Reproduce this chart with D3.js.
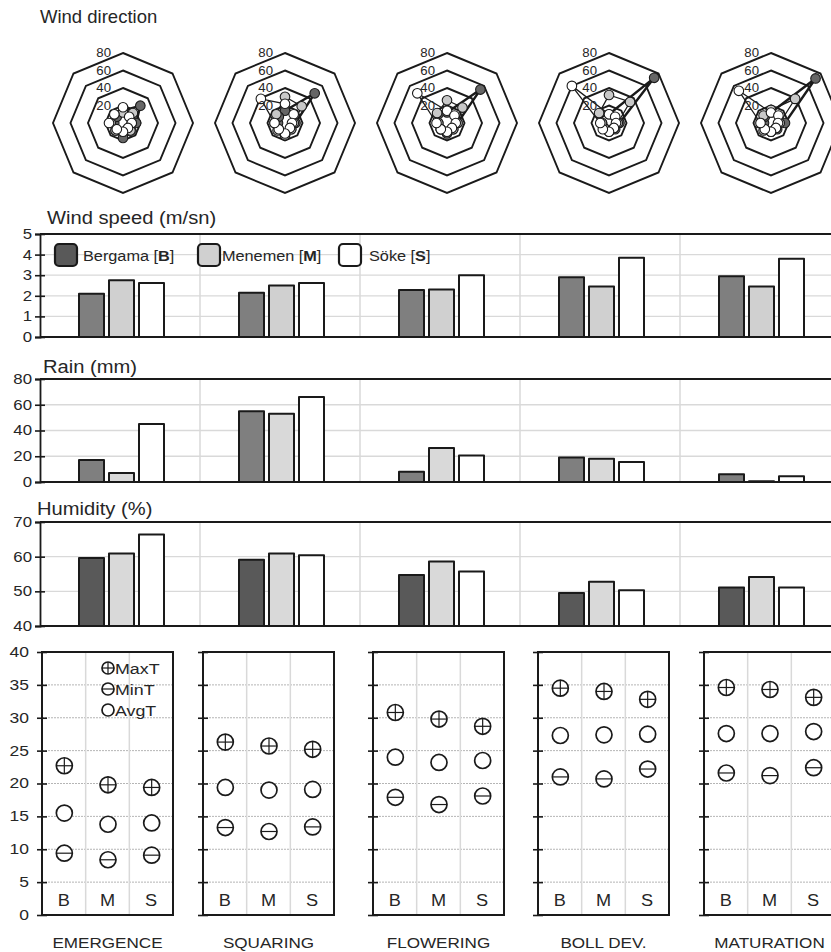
<!DOCTYPE html>
<html><head><meta charset="utf-8">
<script src="https://cdn.jsdelivr.net/npm/d3@7/dist/d3.min.js"></script>
<style>
body{margin:0;background:#fff;}
text{font-family:"Liberation Sans",Arial,sans-serif;fill:#262626;}
</style>
</head><body>
<svg id="chart" width="831" height="952"></svg>
<script>
// ---- data ----
const stages = ["EMERGENCE", "SQUARING", "FLOWERING", "BOLL DEV.", "MATURATION"];
const sites = ["Bergama", "Menemen", "Söke"];
const siteCodes = ["B", "M", "S"];
const directions = ["N", "NE", "E", "SE", "S", "SW", "W", "NW"];

// wind direction frequency (%) per stage, by site
const windDirB = [
  [14, 28, 15, 14, 17, 12, 10, 10],
  [14, 48, 12, 10, 14, 10, 8, 10],
  [12, 54, 12, 10, 12, 10, 10, 14],
  [10, 73, 12, 10, 10, 8, 8, 15],
  [12, 72, 16, 10, 10, 10, 8, 10]
];
const windDirM = [
  [12, 16, 10, 12, 10, 12, 14, 14],
  [30, 27, 10, 10, 14, 12, 12, 14],
  [26, 25, 12, 10, 10, 10, 10, 16],
  [32, 34, 10, 8, 8, 8, 8, 16],
  [15, 39, 10, 8, 10, 12, 14, 12]
];
const windDirS = [
  [18, 10, 10, 8, 10, 10, 16, 14],
  [22, 14, 8, 8, 12, 10, 12, 39],
  [14, 12, 10, 8, 10, 10, 12, 48],
  [10, 10, 8, 8, 10, 10, 10, 60],
  [12, 12, 8, 8, 10, 10, 12, 52]
];
const radarTicks = [20, 40, 60, 80];

// wind speed (m/sn)
const windSpeedB = [2.1, 2.15, 2.28, 2.9, 2.95];
const windSpeedM = [2.75, 2.5, 2.3, 2.45, 2.45];
const windSpeedS = [2.62, 2.62, 3.0, 3.85, 3.8];
const windSpeedTicks = [0, 1, 2, 3, 4, 5];

// rain (mm)
const rainB = [17, 55, 8, 19, 6];
const rainM = [7, 53, 26.5, 18, 0.5];
const rainS = [45, 66, 20.5, 15.5, 4.5];
const rainTicks = [0, 20, 40, 60, 80];

// humidity (%)
const humidityB = [59.6, 59.1, 54.7, 49.5, 51.1];
const humidityM = [60.9, 60.9, 58.6, 52.8, 54.1];
const humidityS = [66.4, 60.4, 55.7, 50.3, 51.1];
const humidityTicks = [40, 50, 60, 70];

// temperature (°C)
const maxTB = [22.7, 26.3, 30.8, 34.5, 34.6];
const maxTM = [19.8, 25.7, 29.8, 34.0, 34.3];
const maxTS = [19.4, 25.2, 28.7, 32.8, 33.1];
const avgTB = [15.5, 19.4, 24.0, 27.3, 27.6];
const avgTM = [13.8, 19.0, 23.2, 27.4, 27.6];
const avgTS = [14.0, 19.1, 23.5, 27.5, 27.9];
const minTB = [9.4, 13.3, 17.9, 21.0, 21.6];
const minTM = [8.4, 12.7, 16.8, 20.7, 21.2];
const minTS = [9.1, 13.4, 18.1, 22.2, 22.4];
const tempTicks = [0, 5, 10, 15, 20, 25, 30, 35, 40];

// ---- drawing ----
const svg = d3.select("#chart");
const INK = "#1a1a1a";
const GRID = "#d9d9d9";
const FONT = '"Liberation Sans",Arial,sans-serif';

// widen glyphs horizontally while keeping the anchor point in place
function stretch(sel, k) {
  sel.each(function () {
    const t = d3.select(this);
    const x = +t.attr("x") || 0;
    t.attr("x", x / k).attr("transform", `scale(${k},1)`);
  });
  return sel;
}

function title(txt, x, y, k) {
  stretch(svg.append("text").attr("x", x).attr("y", y).attr("font-size", 18.5).text(txt), k);
}

// ===== wind direction radars =====
title("Wind direction", 40, 23, 1.0);
const radarX = d3.scalePoint().domain(stages).range([123, 771]);
const radarCy = 123;
const rScale = d3.scaleLinear().domain([0, 80]).range([0, 70]);
const angle = d3.scalePoint().domain(directions).range([0, 2 * Math.PI * 7 / 8]);
const radarSeries = [
  {vals: windDirB, fill: "#666666", width: 2.4},
  {vals: windDirM, fill: "#c8c8c8", width: 1.3},
  {vals: windDirS, fill: "#ffffff", width: 1.3}
];
const ringLine = d3.lineRadial().angle(d => angle(d.dir)).radius(d => rScale(d.v)).curve(d3.curveLinearClosed);

stages.forEach((st, si) => {
  const g = svg.append("g").attr("transform", `translate(${radarX(st)},${radarCy})`);
  radarTicks.forEach(t => {
    g.append("path")
      .attr("d", ringLine(directions.map(d => ({dir: d, v: t}))))
      .attr("fill", "none").attr("stroke", INK).attr("stroke-width", 1.9);
  });
  radarSeries.forEach(s => {
    const pts = directions.map((d, i) => ({dir: d, v: s.vals[si][i]}));
    g.append("path").attr("d", ringLine(pts))
      .attr("fill", "none").attr("stroke", INK).attr("stroke-width", s.width);
  });
  radarSeries.forEach(s => {
    const pts = directions.map((d, i) => ({dir: d, v: s.vals[si][i]}));
    g.selectAll(null).data(pts).enter().append("circle")
      .attr("cx", d => rScale(d.v) * Math.sin(angle(d.dir)))
      .attr("cy", d => -rScale(d.v) * Math.cos(angle(d.dir)))
      .attr("r", 4.8).attr("fill", s.fill).attr("stroke", INK).attr("stroke-width", 1.1);
  });
  radarTicks.forEach(t => {
    stretch(g.append("text").attr("x", -12).attr("y", -rScale(t)).attr("dy", "0.35em")
      .attr("text-anchor", "end").attr("font-size", 12).attr("fill", "#444").text(t), 1.1);
  });
});

// ===== bar panels =====
const xStage = d3.scaleBand().domain(stages).range([40, 840]);
const xSite = d3.scaleBand().domain(sites).range([39, 124]).paddingInner(1 / 6);

function barPanel(opts) {
  const y = d3.scaleLinear().domain(opts.domain).range([opts.bottom, opts.top]);
  const g = svg.append("g");
  g.selectAll(null).data(opts.ticks).enter().append("line")
    .attr("x1", 40).attr("x2", 831).attr("y1", d => y(d)).attr("y2", d => y(d))
    .attr("stroke", GRID).attr("stroke-width", 1.3);
  g.selectAll(null).data(stages.slice(1)).enter().append("line")
    .attr("x1", d => xStage(d)).attr("x2", d => xStage(d))
    .attr("y1", opts.top).attr("y2", opts.bottom)
    .attr("stroke", GRID).attr("stroke-width", 1.5);
  g.append("line").attr("x1", 40).attr("x2", 831).attr("y1", opts.top).attr("y2", opts.top)
    .attr("stroke", INK).attr("stroke-width", 1.8);
  const series = [
    {vals: opts.b, fill: opts.bFill, site: sites[0]},
    {vals: opts.m, fill: opts.mFill, site: sites[1]},
    {vals: opts.s, fill: "#ffffff", site: sites[2]}
  ];
  series.forEach(s => {
    g.selectAll(null).data(stages).enter().append("rect")
      .attr("x", d => xStage(d) + xSite(s.site))
      .attr("width", xSite.bandwidth())
      .attr("y", (d, i) => y(s.vals[i]))
      .attr("height", (d, i) => y(opts.domain[0]) - y(s.vals[i]))
      .attr("fill", s.fill).attr("stroke", INK).attr("stroke-width", 2)
      .attr("stroke-linejoin", "round");
  });
  g.append("line").attr("x1", 40).attr("x2", 831).attr("y1", opts.bottom).attr("y2", opts.bottom)
    .attr("stroke", INK).attr("stroke-width", 1.8);
  const ax = svg.append("g").attr("transform", "translate(40,0)")
    .call(d3.axisLeft(y).tickValues(opts.ticks).tickSize(5).tickPadding(3).tickFormat(d3.format("d")));
  ax.select(".domain").attr("stroke", INK).attr("stroke-width", 1.8);
  ax.selectAll(".tick line").attr("stroke", INK).attr("stroke-width", 1.6).attr("x2", -5).attr("x1", 5);
  stretch(ax.selectAll(".tick text").attr("font-size", 14).attr("fill", "#333").attr("font-family", FONT), 1.2);
  title(opts.label, opts.labelX, opts.labelY, 1.09);
  return y;
}

barPanel({label: "Wind speed (m/sn)", labelX: 47, labelY: 224, domain: [0, 5], ticks: windSpeedTicks,
  top: 234, bottom: 337, b: windSpeedB, m: windSpeedM, s: windSpeedS, bFill: "#7f7f7f", mFill: "#d0d0d0"});
barPanel({label: "Rain (mm)", labelX: 43, labelY: 373, domain: [0, 80], ticks: rainTicks,
  top: 379, bottom: 482, b: rainB, m: rainM, s: rainS, bFill: "#7f7f7f", mFill: "#d9d9d9"});
barPanel({label: "Humidity  (%)", labelX: 37, labelY: 515, domain: [40, 70], ticks: humidityTicks,
  top: 522, bottom: 626, b: humidityB, m: humidityM, s: humidityS, bFill: "#595959", mFill: "#d9d9d9"});

// legend inside the wind speed panel
const legendItems = [
  {name: "Bergama ", code: "B", fill: "#595959", x: 55, tx: 83},
  {name: "Menemen ", code: "M", fill: "#d0d0d0", x: 198, tx: 222},
  {name: "Söke ", code: "S", fill: "#ffffff", x: 339, tx: 369}
];
legendItems.forEach(it => {
  svg.append("rect").attr("x", it.x).attr("y", 244).attr("width", 22).attr("height", 22)
    .attr("rx", 4).attr("fill", it.fill).attr("stroke", INK).attr("stroke-width", 2.2);
  const t = svg.append("text").attr("x", it.tx).attr("y", 261).attr("font-size", 15.5);
  t.append("tspan").text(it.name + "[");
  t.append("tspan").attr("font-weight", "bold").text(it.code);
  t.append("tspan").text("]");
  stretch(t, 1.05);
});

// ===== temperature boxes =====
const boxLeft = [42, 203, 373, 538, 704];
const boxW = 131, boxTop = 652, boxBottom = 915;
const yT = d3.scaleLinear().domain([0, 40]).range([boxBottom, boxTop]);
const xCol = d3.scaleBand().domain(siteCodes).range([0, boxW]);
const tempSeries = [
  {key: "MaxT", vals: [maxTB, maxTM, maxTS]},
  {key: "MinT", vals: [minTB, minTM, minTS]},
  {key: "AvgT", vals: [avgTB, avgTM, avgTS]}
];

function marker(g, x, y, r, kind) {
  g.append("circle").attr("cx", x).attr("cy", y).attr("r", r)
    .attr("fill", "#fff").attr("stroke", INK).attr("stroke-width", 1.7);
  if (kind === "MaxT" || kind === "MinT") {
    g.append("line").attr("x1", x - r).attr("x2", x + r).attr("y1", y).attr("y2", y)
      .attr("stroke", INK).attr("stroke-width", 1.2);
  }
  if (kind === "MaxT") {
    g.append("line").attr("x1", x).attr("x2", x).attr("y1", y - r).attr("y2", y + r)
      .attr("stroke", INK).attr("stroke-width", 1.2);
  }
}

stages.forEach((st, si) => {
  const g = svg.append("g").attr("transform", `translate(${boxLeft[si]},0)`);
  g.selectAll(null).data(tempTicks.slice(1, -1)).enter().append("line")
    .attr("x1", 0).attr("x2", boxW).attr("y1", d => yT(d)).attr("y2", d => yT(d))
    .attr("stroke", "#b5b5b5").attr("stroke-width", 1).attr("stroke-dasharray", "2,1");
  g.selectAll(null).data(siteCodes.slice(1)).enter().append("line")
    .attr("x1", d => xCol(d)).attr("x2", d => xCol(d)).attr("y1", boxTop).attr("y2", boxBottom)
    .attr("stroke", GRID).attr("stroke-width", 1.5);
  g.append("rect").attr("x", 0).attr("y", boxTop).attr("width", boxW).attr("height", boxBottom - boxTop)
    .attr("fill", "none").attr("stroke", INK).attr("stroke-width", 2);
  const ax = g.append("g").call(d3.axisLeft(yT).tickValues(tempTicks).tickSize(5).tickPadding(8)
    .tickFormat(si === 0 ? d3.format("d") : () => ""));
  ax.select(".domain").remove();
  ax.selectAll(".tick line").attr("stroke", INK).attr("stroke-width", 1.6).attr("x1", 5).attr("x2", -5);
  stretch(ax.selectAll(".tick text").attr("font-size", 14).attr("fill", "#333").attr("font-family", FONT), 1.25);
  tempSeries.forEach(ts => {
    siteCodes.forEach((c, ci) => {
      marker(g, xCol(c) + xCol.bandwidth() / 2 + 0.5, yT(ts.vals[ci][si]), 8, ts.key);
    });
  });
  stretch(g.selectAll(null).data(siteCodes).enter().append("text")
    .attr("x", d => xCol(d) + xCol.bandwidth() / 2).attr("y", 906)
    .attr("text-anchor", "middle").attr("font-size", 16.5).text(d => d), 1.1);
  stretch(svg.append("text").attr("x", boxLeft[si] + boxW / 2).attr("y", 948)
    .attr("text-anchor", "middle").attr("font-size", 14.5).text(st), 1.18);
});

// temperature legend
const lg = svg.append("g");
["MaxT", "MinT", "AvgT"].forEach((k, i) => {
  const yy = 668 + i * 21;
  marker(lg, 108, yy, 6, k);
  stretch(lg.append("text").attr("x", 115).attr("y", yy).attr("dy", "0.36em").attr("font-size", 15.5).text(k), 1.15);
});
</script>
</body></html>
